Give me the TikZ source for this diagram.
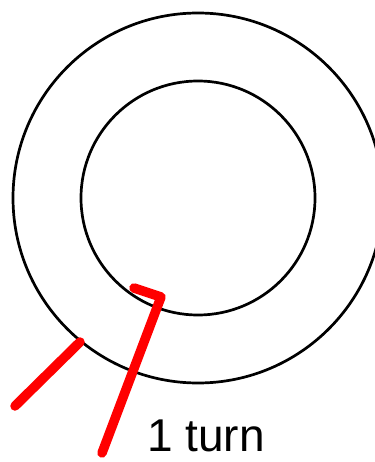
\documentclass[tikz,border=0pt]{standalone}
\usepackage{fontspec}
\setmainfont{Liberation Sans}
\begin{document}
\begin{tikzpicture}[x=1pt,y=-1pt,
  ring/.style={draw=black,line width=2.7pt},
  lead/.style={draw=red,line width=9.5pt,line cap=round,line join=round},
  lbl/.style={font=\fontsize{46}{50}\selectfont,inner sep=0pt,anchor=base west}]
\useasboundingbox (0,0) rectangle (374,462);
\coordinate (c) at (198,198);
\draw[ring] (c) circle[radius=185];
\draw[ring] (c) circle[radius=117];
\coordinate (a1) at (15,406);
\coordinate (a2) at (80,342);
\coordinate (b1) at (102,453);
\coordinate (b2) at (161,297);
\coordinate (b3) at (134,288);
\draw[lead] (a1) -- (a2);
\draw[lead] (b1) -- (b2) -- (b3);
\node[lbl] (t) at (147,451) {1 turn};
\end{tikzpicture}
\end{document}
